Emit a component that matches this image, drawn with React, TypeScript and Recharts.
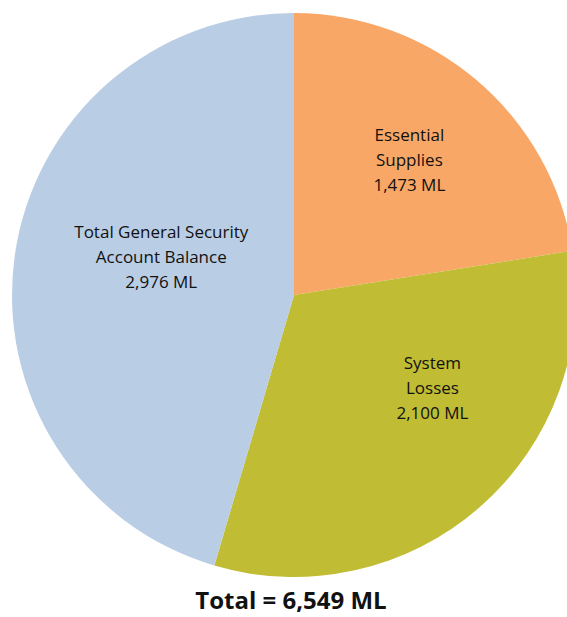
import { Cell, Pie, PieChart } from "recharts";

const labels = ["Essential Supplies", "System Losses", "Total General Security Account Balance"];
const values = [1473, 2100, 2976];
const labelLines = [
    ["Essential", "Supplies", "1,473 ML"],
    ["System", "Losses", "2,100 ML"],
    ["Total General Security", "Account Balance", "2,976 ML"],
];
const colors = ["#F8A766", "#C0BC34", "#B9CDE5"];

// where Excel put the labels: degrees nudged off the mid angle, and distance as share of radius
const labelPlacement = [
    { shift: 0, dist: 0.63 },
    { shift: -15, dist: 0.59 },
    { shift: 8, dist: 0.49 },
];

const data = labels.map((name, i) => ({ name, value: values[i] }));
const total = values.reduce((a, b) => a + b, 0);

const RAD = Math.PI / 180;

const renderLabel = (props: any) => {
    const { cx, cy, midAngle, outerRadius, index } = props;
    const p = labelPlacement[index];
    const ang = midAngle - p.shift;
    const r = outerRadius * p.dist;
    const x = cx + r * Math.cos(-ang * RAD);
    const y = cy + r * Math.sin(-ang * RAD);
    return (
        <g>
            {labelLines[index].map((line, j) => (
                <text
                    key={j}
                    x={x}
                    y={y + (j - 1) * 25}
                    textAnchor="middle"
                    dominantBaseline="central"
                    fill="#111"
                    fontSize={17}
                    fontFamily="'Open Sans', sans-serif"
                >
                    {line}
                </text>
            ))}
        </g>
    );
};

const App: React.FC = () => {
    return (
        <div style={{ position: "absolute", left: 0, top: 0, width: 567, height: 617, background: "#fff", overflow: "hidden" }}>
            <PieChart width={567} height={617} margin={{ top: 0, right: 0, bottom: 0, left: 0 }}>
                <Pie
                    dataKey="value"
                    data={data}
                    cx={294}
                    cy={295}
                    outerRadius={282}
                    startAngle={90}
                    endAngle={-270}
                    stroke="none"
                    label={renderLabel}
                    labelLine={false}
                    isAnimationActive={false}
                >
                    {data.map((d, i) => (
                        <Cell key={d.name} fill={colors[i]} />
                    ))}
                </Pie>
            </PieChart>
            <div
                style={{
                    position: "absolute",
                    left: 91,
                    width: 400,
                    top: 584,
                    textAlign: "center",
                    fontFamily: "'Open Sans', sans-serif",
                    fontWeight: 700,
                    fontSize: 24,
                    lineHeight: "32px",
                    color: "#111",
                }}
            >
                Total = {total.toLocaleString("en-US")} ML
            </div>
        </div>
    );
};

export default App;
